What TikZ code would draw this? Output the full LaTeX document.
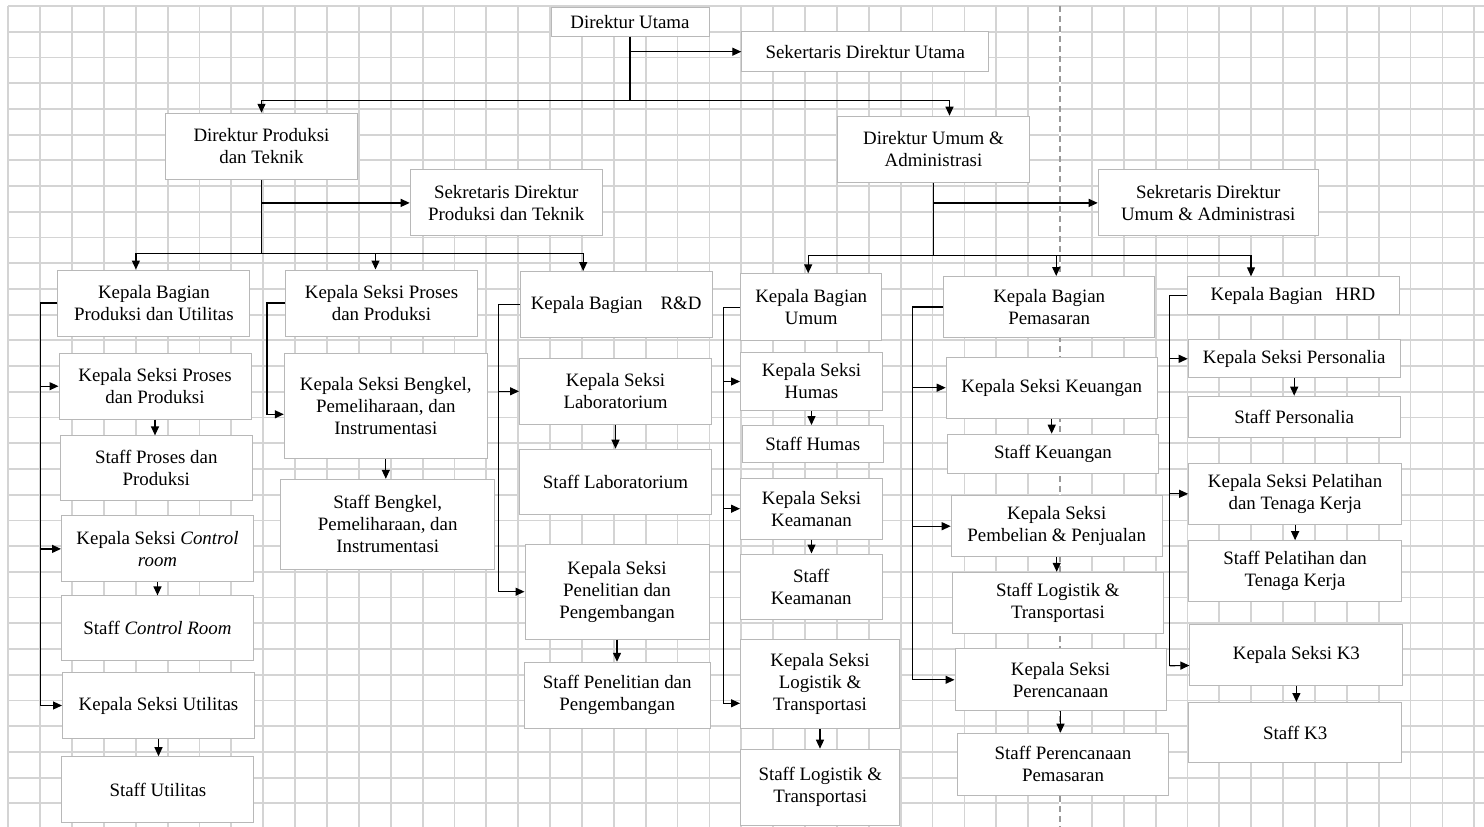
\documentclass[tikz,border=0pt]{standalone}
\usepackage{fontspec}
\setmainfont{Liberation Serif}
\usepackage{tikz}
\usetikzlibrary{arrows.meta,calc,positioning}
\definecolor{gridgray}{gray}{0.83}
\definecolor{boxline}{gray}{0.72}
\definecolor{dashgray}{gray}{0.6}

\begin{document}
\begin{tikzpicture}[x=1pt, y=-1pt,
unitbox/.style={rectangle, draw=boxline, fill=white, line width=1pt, align=center, inner sep=1pt, font=\fontsize{18.9}{22}\selectfont},
sz/.style 2 args={minimum width=#1, minimum height=#2},
gridline/.style={draw=gridgray, line width=1.8pt},
conn/.style={line width=1.2pt},
arr/.style={conn, -{Triangle[length=9pt, width=8pt]}},
]
\useasboundingbox (0,0) rectangle (1484,827);
%Background grid
\foreach \k in {0,...,46}
  \draw[gridline] (8.3+31.87*\k,6) -- (8.3+31.87*\k,827);
\foreach \j in {0,...,31}
  \draw[gridline] (8.3,6+25.72*\j) -- (1484,6+25.72*\j);
\draw[white, line width=2.5pt] (1060,6) -- (1060,827);
\draw[dashgray, line width=1.3pt, dash pattern=on 6pt off 4pt] (1060,6) -- (1060,827);

%Direksi
\node[unitbox, sz={158}{29}]  (du)  at (630,21.6)   {Direktur Utama};
\node[unitbox, sz={247}{40}]  (sdu) at (865.3,51.7) {Sekertaris Direktur Utama};
\node[unitbox, sz={192}{66}]  (dpt) at (261.5,146.3) {Direktur Produksi\\dan Teknik};
\node[unitbox, sz={192}{66}]  (dua) at (933.5,149.2) {Direktur Umum \&\\Administrasi};
\node[unitbox, sz={192}{66}]  (spt) at (506.2,202.9) {Sekretaris Direktur\\Produksi dan Teknik};
\node[unitbox, sz={220}{66}]  (sua) at (1208.2,202.9) {Sekretaris Direktur\\Umum \& Administrasi};

%Produksi dan Utilitas
\node[unitbox, sz={192}{66}]  (kbpu) at (153.9,303)   {Kepala Bagian\\Produksi dan Utilitas};
\node[unitbox, sz={192}{66}]  (ksp1) at (155,386.2)   {Kepala Seksi Proses\\dan Produksi};
\node[unitbox, sz={192}{65}]  (sp1)  at (156.3,468.4) {Staff Proses dan\\Produksi};
\node[unitbox, sz={192}{66}]  (kscr) at (157.5,548.9) {Kepala Seksi \textit{Control}\\\textit{room}};
\node[unitbox, sz={192}{65}]  (scr)  at (157.5,628.4) {Staff \textit{Control Room}};
\node[unitbox, sz={192}{66}]  (ksu)  at (158.5,705.5) {Kepala Seksi Utilitas};
\node[unitbox, sz={192}{66}]  (su)   at (157.9,789.7) {Staff Utilitas};

%Proses dan Produksi
\node[unitbox, sz={192}{66}]  (ksp2) at (381.5,303)   {Kepala Seksi Proses\\dan Produksi};
\node[unitbox, sz={203}{105}] (ksb)  at (385.8,405.8) {Kepala Seksi Bengkel,\\Pemeliharaan, dan\\Instrumentasi};
\node[unitbox, sz={214}{90}]  (sb)   at (387.7,524.3) {Staff Bengkel,\\Pemeliharaan, dan\\Instrumentasi};

%R&D
\node[unitbox, sz={192}{66}]  (kbrd)  at (616.2,304.5) {Kepala Bagian\hspace{18pt}R\&D};
\node[unitbox, sz={192}{66}]  (kslab) at (615.5,391.3) {Kepala Seksi\\Laboratorium};
\node[unitbox, sz={192}{65}]  (slab)  at (615.5,481.7) {Staff Laboratorium};
\node[unitbox, sz={184}{95}]  (ksppg) at (617,591.7)   {Kepala Seksi\\Penelitian dan\\Pengembangan};
\node[unitbox, sz={186}{66}]  (sppg)  at (617.2,695.3) {Staff Penelitian dan\\Pengembangan};

%Umum
\node[unitbox, sz={141}{67}]  (kbum)   at (811.2,307.3) {Kepala Bagian\\Umum};
\node[unitbox, sz={142}{58}]  (kshum)  at (811.5,381.5) {Kepala Seksi\\Humas};
\node[unitbox, sz={141}{37}]  (shum)   at (812.8,444)   {Staff Humas};
\node[unitbox, sz={142}{61}]  (kskeam) at (811.5,508.7) {Kepala Seksi\\Keamanan};
\node[unitbox, sz={142}{65}]  (skeam)  at (811.2,586.5) {Staff\\Keamanan};
\node[unitbox, sz={159}{89}]  (kslt)   at (820,683.8)   {Kepala Seksi\\Logistik \&\\Transportasi};
\node[unitbox, sz={159}{76}]  (slt)    at (820.3,787.2) {Staff Logistik \&\\Transportasi};

%Pemasaran
\node[unitbox, sz={211}{61}]  (kbpem) at (1049.2,307)   {Kepala Bagian\\Pemasaran};
\node[unitbox, sz={211}{61}]  (kskeu) at (1051.7,387.7) {Kepala Seksi Keuangan};
\node[unitbox, sz={211}{39}]  (skeu)  at (1053,453.7)   {Staff Keuangan};
\node[unitbox, sz={211}{61}]  (kspp)  at (1056.7,526.2) {Kepala Seksi\\Pembelian \& Penjualan};
\node[unitbox, sz={211}{61}]  (slt2)  at (1057.9,602.8) {Staff Logistik \&\\Transportasi};
\node[unitbox, sz={211}{62}]  (ksper) at (1060.5,679.8) {Kepala Seksi\\Perencanaan};
\node[unitbox, sz={211}{62}]  (sper)  at (1063,764.2)   {Staff Perencanaan\\Pemasaran};

%HRD
\node[unitbox, sz={212}{38}]  (kbhrd)  at (1293,295.8)   {Kepala Bagian\hspace{13pt}HRD};
\node[unitbox, sz={212}{38}]  (kspers) at (1294.2,358.8) {Kepala Seksi Personalia};
\node[unitbox, sz={212}{41}]  (spers)  at (1294.2,416.7) {Staff Personalia};
\node[unitbox, sz={213}{61}]  (kspel)  at (1295.1,493.8) {Kepala Seksi Pelatihan\\dan Tenaga Kerja};
\node[unitbox, sz={213}{61}]  (spel)   at (1295.1,571.2) {Staff Pelatihan dan\\Tenaga Kerja};
\node[unitbox, sz={213}{61}]  (ksk3)   at (1296.4,654.5) {Kepala Seksi K3};
\node[unitbox, sz={213}{60}]  (sk3)    at (1295.1,732.5) {Staff K3};

%Connectors: direksi
\path (du.south) ++(0,64) coordinate (duj);
\draw[conn] (du.south) -- (duj);
\draw[arr] (du.south |- sdu.west) -- (sdu.west);
\draw[arr] (duj) -| (dpt.north);
\draw[arr] (duj) -| ([xshift=16]dua.north);

\path (dpt.south) ++(0,74) coordinate (dptj);
\draw[conn] (dpt.south) -- (dptj);
\draw[arr] (dpt.south |- spt.west) -- (spt.west);
\draw[arr] (dptj) -| ([xshift=-18]kbpu.north);
\draw[arr] (dptj) -| ([xshift=-6]ksp2.north);
\draw[arr] (dptj) -| ([xshift=-33]kbrd.north);

\path (dua.south) ++(0,73) coordinate (duaj);
\draw[conn] (dua.south) -- (duaj);
\draw[arr] (dua.south |- sua.west) -- (sua.west);
\draw[arr] (duaj) -| ([xshift=-3]kbum.north);
\draw[arr] (duaj) -| ([xshift=7]kbpem.north);
\draw[arr] (duaj) -| ([xshift=-42]kbhrd.north);

%Connectors: produksi dan utilitas
\draw[conn] (kbpu.west) -- ++(-17,0) coordinate (b1) -- (b1 |- ksu.west);
\draw[arr] (b1 |- ksp1.west) -- (ksp1.west);
\draw[arr] (b1 |- kscr.west) -- (kscr.west);
\draw[arr] (b1 |- ksu.west) -- (ksu.west);
\draw[arr] (ksp1.south) -- (ksp1.south |- sp1.north);
\draw[arr] (kscr.south) -- (kscr.south |- scr.north);
\draw[arr] (ksu.south) -- (ksu.south |- su.north);

%Connectors: proses dan produksi
\draw[arr] (ksp2.west) -- ++(-18,0) |- ([yshift=-8.5]ksb.west);
\draw[arr] (ksb.south) -- (ksb.south |- sb.north);

%Connectors: R&D
\draw[conn] (kbrd.west) -- ++(-21,0) coordinate (b3) -- (b3 |- ksppg.west);
\draw[arr] (b3 |- kslab.west) -- (kslab.west);
\draw[arr] (b3 |- ksppg.west) -- (ksppg.west);
\draw[arr] (kslab.south) -- (kslab.south |- slab.north);
\draw[arr] (ksppg.south) -- (ksppg.south |- sppg.north);

%Connectors: umum
\draw[conn] (kbum.west) -- ++(-17,0) coordinate (b4) -- (b4 |- 0,703.3);
\draw[arr] (b4 |- kshum.west) -- (kshum.west);
\draw[arr] (b4 |- kskeam.west) -- (kskeam.west);
\draw[arr] (b4 |- 0,703.3) -- ([yshift=-19.5]kslt.west);
\draw[arr] (kshum.south) -- (kshum.south |- shum.north);
\draw[arr] (kskeam.south) -- (kskeam.south |- skeam.north);
\draw[arr] (kslt.south) -- (kslt.south |- slt.north);

%Connectors: pemasaran
\draw[conn] (kbpem.west) -- ++(-31,0) coordinate (b5) -- (b5 |- ksper.west);
\draw[arr] (b5 |- kskeu.west) -- (kskeu.west);
\draw[arr] (b5 |- kspp.west) -- (kspp.west);
\draw[arr] (b5 |- ksper.west) -- (ksper.west);
\draw[arr] (kskeu.south) -- (kskeu.south |- skeu.north);
\draw[arr] (kspp.south) -- (kspp.south |- slt2.north);
\draw[arr] (ksper.south) -- (ksper.south |- sper.north);

%Connectors: HRD
\draw[conn] (kbhrd.west) -- ++(-17,0) coordinate (b6) -- (b6 |- 0,665.7);
\draw[arr] (b6 |- kspers.west) -- (kspers.west);
\draw[arr] (b6 |- kspel.west) -- (kspel.west);
\draw[arr] (b6 |- 0,665.7) -- ([yshift=-11]ksk3.west);
\draw[arr] (kspers.south) -- (kspers.south |- spers.north);
\draw[arr] (kspel.south) -- (kspel.south |- spel.north);
\draw[arr] (ksk3.south) -- (ksk3.south |- sk3.north);
\end{tikzpicture}
\end{document}
